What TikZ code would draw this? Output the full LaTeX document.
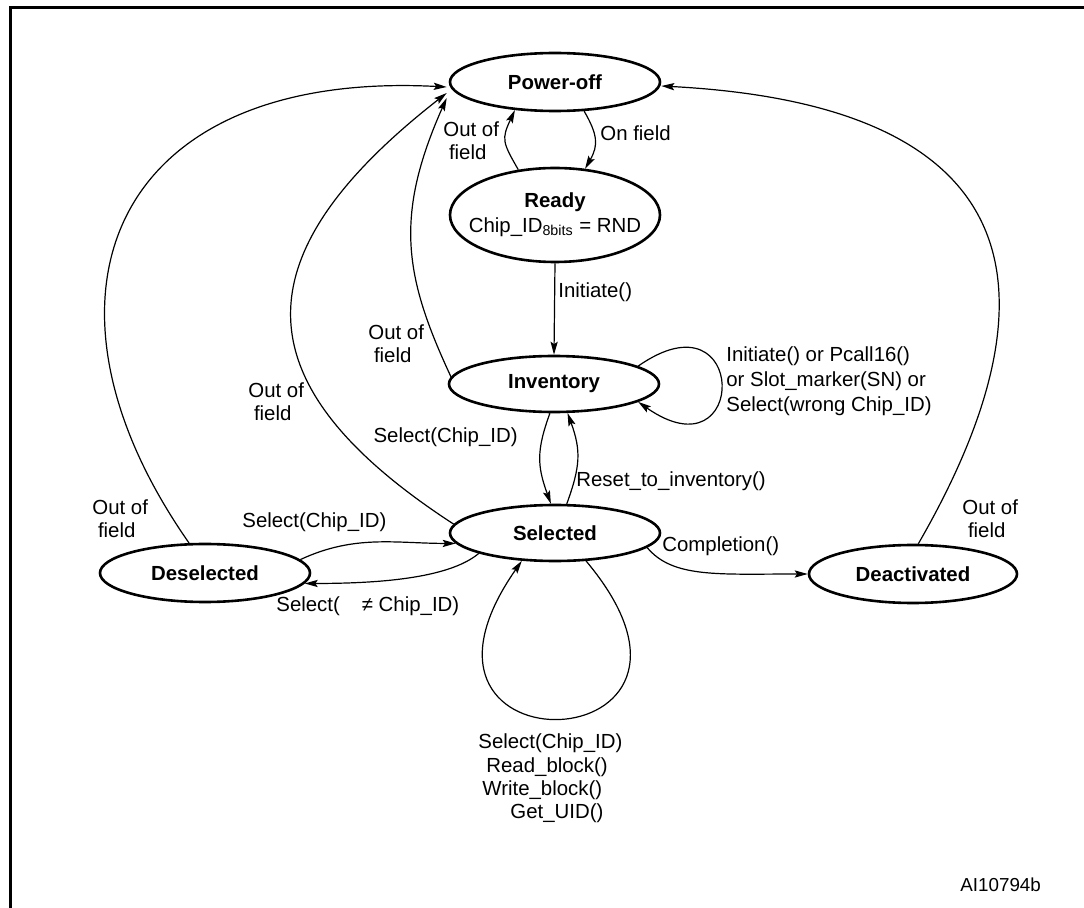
\documentclass[tikz,border=0pt]{standalone}
\usepackage{fontspec}
\setmainfont{Liberation Sans}
\usepackage{tikz}
\usetikzlibrary{arrows.meta,shapes.geometric,positioning}
\tikzset{
		>={Stealth[length=6.5pt,width=3.6pt,inset=1.2pt]},
		st/.style={ellipse,draw,line width=1.3pt,minimum width=105pt,minimum height=29pt,
			inner sep=0pt,font=\fontsize{10.2}{12.5}\selectfont\bfseries},
		trans/.style={->,line width=0.6pt},
		lbl/.style={inner sep=0pt,align=left,font=\fontsize{10.2}{11.5}\selectfont}
	}
\newcommand{\outoffield}{Out of\\\hspace*{2.8pt}field}

\begin{document}
\begin{tikzpicture}[x=0.5pt,y=0.5pt]
          \useasboundingbox (0,0) rectangle (1084,907);
          \clip (0,0) rectangle (1084,907);
          \draw[line width=1.5pt] (10,-10) -- (10,899) -- (1094,899);

          % states
          \node[st] (pwr) at (555,825) {Power-off};
          \node[st,minimum height=47pt] (rdy) at (555,692) {\makebox[0pt]{\begin{tabular}{@{}c@{}}Ready\\\mdseries Chip\_ID\textsubscript{8bits} = RND\end{tabular}}};
          \node[st,minimum height=28pt] (inv) at (554,523) {Inventory};
          \node[st,minimum height=28pt] (sel) at (555,374) {Selected};
          \node[st] (des) at (205,334) {Deselected};
          \node[st,minimum width=104pt] (dea) at (913,333) {Deactivated};

          % transitions
          \draw[trans] (pwr.-45) .. controls +(-60:27) and +(60:27) .. (rdy.57);
          \draw[trans] (rdy.129) .. controls +(120:32) and +(-115:32) .. (pwr.-145);
          \draw[trans] (rdy.south) -- (inv.north);
          \draw[trans] (inv.176) .. controls +(115:110) and +(-114:130) .. ([xshift=-1pt,yshift=-8pt]pwr.west);
          \draw[trans] (sel.175) .. controls +(147:260) and +(-142:260) .. ([xshift=-1pt,yshift=-5.5pt]pwr.west);
          \draw[trans] (des.118) .. controls +(125:298) and +(177:338) .. ([xshift=-1pt,yshift=-2.5pt]pwr.west);
          \draw[trans] (dea.80) .. controls +(60:280) and +(-3:380) .. ([yshift=-2pt]pwr.east);
          \draw[trans] (inv.12) .. controls +(35:135) and +(-35:135) .. (inv.-12);
          \draw[trans] (inv.-98) .. controls +(-110:40) and +(110:40) .. (sel.98);
          \draw[trans] (sel.68) .. controls +(70:40) and +(-70:40) .. (inv.-65);
          \draw[trans] (des.8) .. controls +(25:60) and +(180:60) .. (sel.-174);
          \draw[trans] (sel.-165) .. controls +(-140:40) and +(0:70) .. (des.-6);
          \draw[trans] (sel.-9) .. controls +(-50:40) and +(180:90) .. (dea.west);
          \draw[trans] (sel.-42) .. controls +(-50:265) and +(-125:265) .. (sel.-140);

          % labels
          \node[lbl,anchor=west] (lonf) at (600,774) {On field};
          \node[lbl,anchor=west] (loff1) at (443,766) {\outoffield};
          \node[lbl,anchor=west] (linit) at (558,615) {Initiate()};
          \node[lbl,anchor=west] (loff2) at (368,563) {\outoffield};
          \node[lbl,anchor=west] (loff3) at (248,505) {\outoffield};
          \node[lbl,anchor=west] (loff4) at (92,388) {\outoffield};
          \node[lbl,anchor=west] (loff5) at (962,388) {\outoffield};
          \node[lbl,anchor=west,font=\fontsize{10.2}{12.5}\selectfont] (lloop) at (726,526) {Initiate() or Pcall16()\\or Slot\_marker(SN) or\\Select(wrong Chip\_ID)};
          \node[lbl,anchor=east] (lsel1) at (518,470) {Select(Chip\_ID)};
          \node[lbl,anchor=west] (lrst) at (576,426) {Reset\_to\_inventory()};
          \node[lbl,anchor=west] (lsel2) at (242,385) {Select(Chip\_ID)};
          \node[lbl,anchor=west] (lnsel) at (276,301) {Select(\hspace{11pt}≠ Chip\_ID)};
          \node[lbl,anchor=west] (lcmp) at (662,361) {Completion()};
          \node[lbl,anchor=west] (lb1) at (478,164) {Select(Chip\_ID)};
          \node[lbl,anchor=west] (lb2) at (486,140) {Read\_block()};
          \node[lbl,anchor=west] (lb3) at (482,117) {Write\_block()};
          \node[lbl,anchor=west] (lb4) at (510,94) {Get\_UID()};
          \node[lbl,anchor=west,font=\fontsize{9.4}{11}\selectfont] (fig) at (960,22) {AI10794b};

\end{tikzpicture}
\end{document}
